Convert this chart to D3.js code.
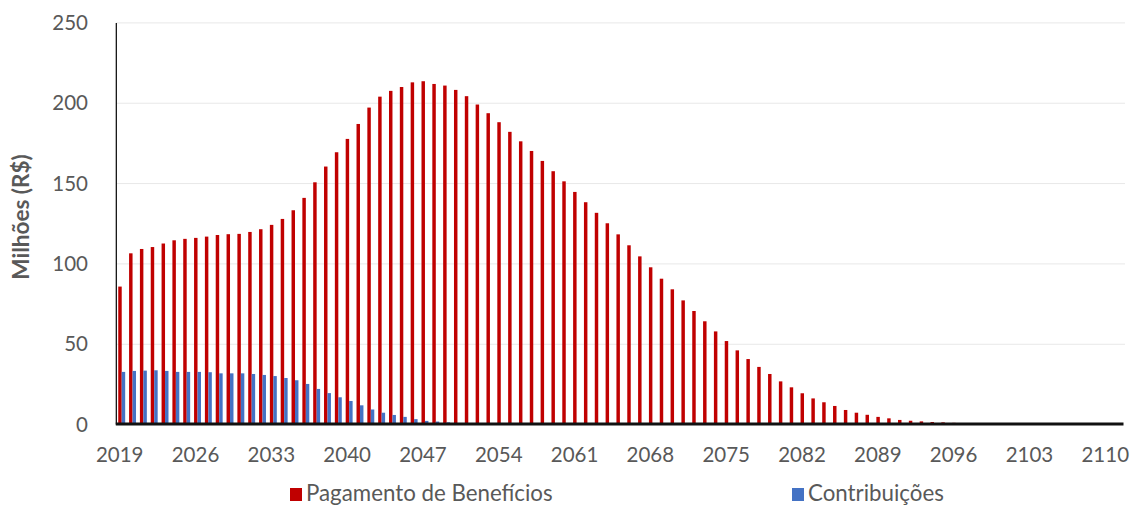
<!DOCTYPE html>
<html>
<head>
<meta charset="utf-8">
<script src="https://cdn.jsdelivr.net/npm/d3@7"></script>
<style>
  html, body { margin: 0; padding: 0; background: #ffffff; }
  svg { display: block; }
  text { font-family: Lato, "Open Sans", sans-serif; }
</style>
</head>
<body>
<svg id="chart" width="1133" height="505"></svg>
<script>
const years = [
  2019,2020,2021,2022,2023,2024,2025,2026,2027,2028,
  2029,2030,2031,2032,2033,2034,2035,2036,2037,2038,
  2039,2040,2041,2042,2043,2044,2045,2046,2047,2048,
  2049,2050,2051,2052,2053,2054,2055,2056,2057,2058,
  2059,2060,2061,2062,2063,2064,2065,2066,2067,2068,
  2069,2070,2071,2072,2073,2074,2075,2076,2077,2078,
  2079,2080,2081,2082,2083,2084,2085,2086,2087,2088,
  2089,2090,2091,2092,2093,2094,2095,2096,2097,2098,
  2099,2100,2101,2102,2103,2104,2105,2106,2107,2108,
  2109,2110,2111
];

const pagamentoBeneficios = [
  85.9,106.6,109.3,110.5,112.7,114.7,115.6,116.2,117.0,118.0,
  118.5,118.7,119.9,121.6,124.3,128.0,133.4,141.1,150.8,160.6,
  169.5,177.8,187.1,197.3,204.1,207.7,210.1,213.0,213.7,212.0,
  211.0,208.3,204.4,199.2,193.8,188.2,182.2,176.3,170.3,164.1,
  157.7,151.4,144.8,138.4,131.8,125.3,118.4,111.6,104.7,97.9,
  90.8,84.2,77.3,70.7,64.3,58.0,52.0,46.2,40.8,35.9,
  31.5,26.9,23.2,19.5,16.3,13.9,11.6,9.1,7.4,6.1,
  4.8,3.9,2.9,2.4,2.0,1.6,1.4,1.1,0.9,0.7,
  0.5,0.4,0.3,0.2,0.15,0.1,0.1,0.05,0.05,0,
  0,0,0
];

const contribuicoes = [
  32.8,33.4,33.6,33.8,33.4,32.8,32.8,32.8,32.6,31.9,
  31.9,31.9,31.5,30.9,30.2,29.0,27.6,25.3,22.2,19.6,
  17.0,14.7,12.0,9.4,7.4,6.0,4.8,3.4,2.3,1.9,
  1.4,1.0,0.7,0.5,0.3,0.2,0.1,0,0,0,
  0,0,0,0,0,0,0,0,0,0,
  0,0,0,0,0,0,0,0,0,0,
  0,0,0,0,0,0,0,0,0,0,
  0,0,0,0,0,0,0,0,0,0,
  0,0,0,0,0,0,0,0,0,0,
  0,0,0
];

const yTicks = [0, 50, 100, 150, 200, 250];
const xTickLabels = ["2019","2026","2033","2040","2047","2054","2061","2068","2075","2082","2089","2096","2103","2110"];
const seriesNames = ["Pagamento de Benefícios", "Contribuições"];
const seriesColors = ["#C00000", "#4472C4"];

(function () {
const svg = d3.select("#chart");
const pL = 116.3, pR = 1123.5, pT = 22.9, pB = 424.6;

const x = d3.scaleBand().domain(years.map(String)).range([pL, pR]).paddingInner(0).paddingOuter(0);
const y = d3.scaleLinear().domain([0, 250]).range([pB, pT]);

// gridlines
svg.append("g").selectAll("line").data(yTicks.filter(d => d > 0)).join("line")
  .attr("x1", pL).attr("x2", pR + 1.5)
  .attr("y1", d => y(d)).attr("y2", d => y(d))
  .attr("stroke", "#e8e8e8").attr("stroke-width", 1);

// bars
const groupW = x.bandwidth() * 0.64;
const inner = d3.scaleBand().domain(seriesNames).range([0, groupW]);
const gOff = (x.bandwidth() - groupW) / 2;

const rows = years.map((yr, i) => ({ year: String(yr), vals: [pagamentoBeneficios[i], contribuicoes[i]] }));

const bars = svg.append("g");
seriesNames.forEach((name, si) => {
  bars.append("g").selectAll("rect").data(rows).join("rect")
    .attr("x", d => x(d.year) + gOff + inner(name))
    .attr("width", inner.bandwidth())
    .attr("y", d => y(d.vals[si]))
    .attr("height", d => y(0) - y(d.vals[si]))
    .attr("fill", seriesColors[si]);
});

// y axis line
svg.append("line").attr("x1", pL).attr("x2", pL).attr("y1", pT).attr("y2", pB)
  .attr("stroke", "#000").attr("stroke-width", 1.2);

// x axis (thick)
svg.append("line").attr("x1", pL - 0.5).attr("x2", pR).attr("y1", y(0) - 0.6).attr("y2", y(0) - 0.6)
  .attr("stroke", "#111").attr("stroke-width", 3.2);

// y tick labels
svg.append("g").selectAll("text").data(yTicks).join("text")
  .attr("x", 88).attr("y", d => y(d)).attr("dy", "0.35em")
  .attr("text-anchor", "end").attr("font-size", 20.5).attr("fill", "#595959")
  .text(d => d);

// x tick labels
svg.append("g").selectAll("text").data(xTickLabels).join("text")
  .attr("x", d => x(d) + x.bandwidth() / 2 - 2).attr("y", 455).attr("dy", "0.35em")
  .attr("text-anchor", "middle").attr("font-size", 20.5).attr("fill", "#595959")
  .text(d => d);

// y title
svg.append("text")
  .attr("transform", "translate(29,217) rotate(-90)")
  .attr("text-anchor", "middle").attr("font-size", 22.5).attr("font-weight", "bold").attr("fill", "#595959")
  .text("Milhões (R$)");

// legend
const legendX = [290, 792];
const lg = svg.append("g");
seriesNames.forEach((name, i) => {
  lg.append("rect").attr("x", legendX[i]).attr("y", 488).attr("width", 12).attr("height", 13).attr("fill", seriesColors[i]);
  lg.append("text").attr("x", legendX[i] + 16).attr("y", 500.5)
    .attr("font-size", 22.3).attr("fill", "#595959").text(name);
});
})();
</script>
</body>
</html>
